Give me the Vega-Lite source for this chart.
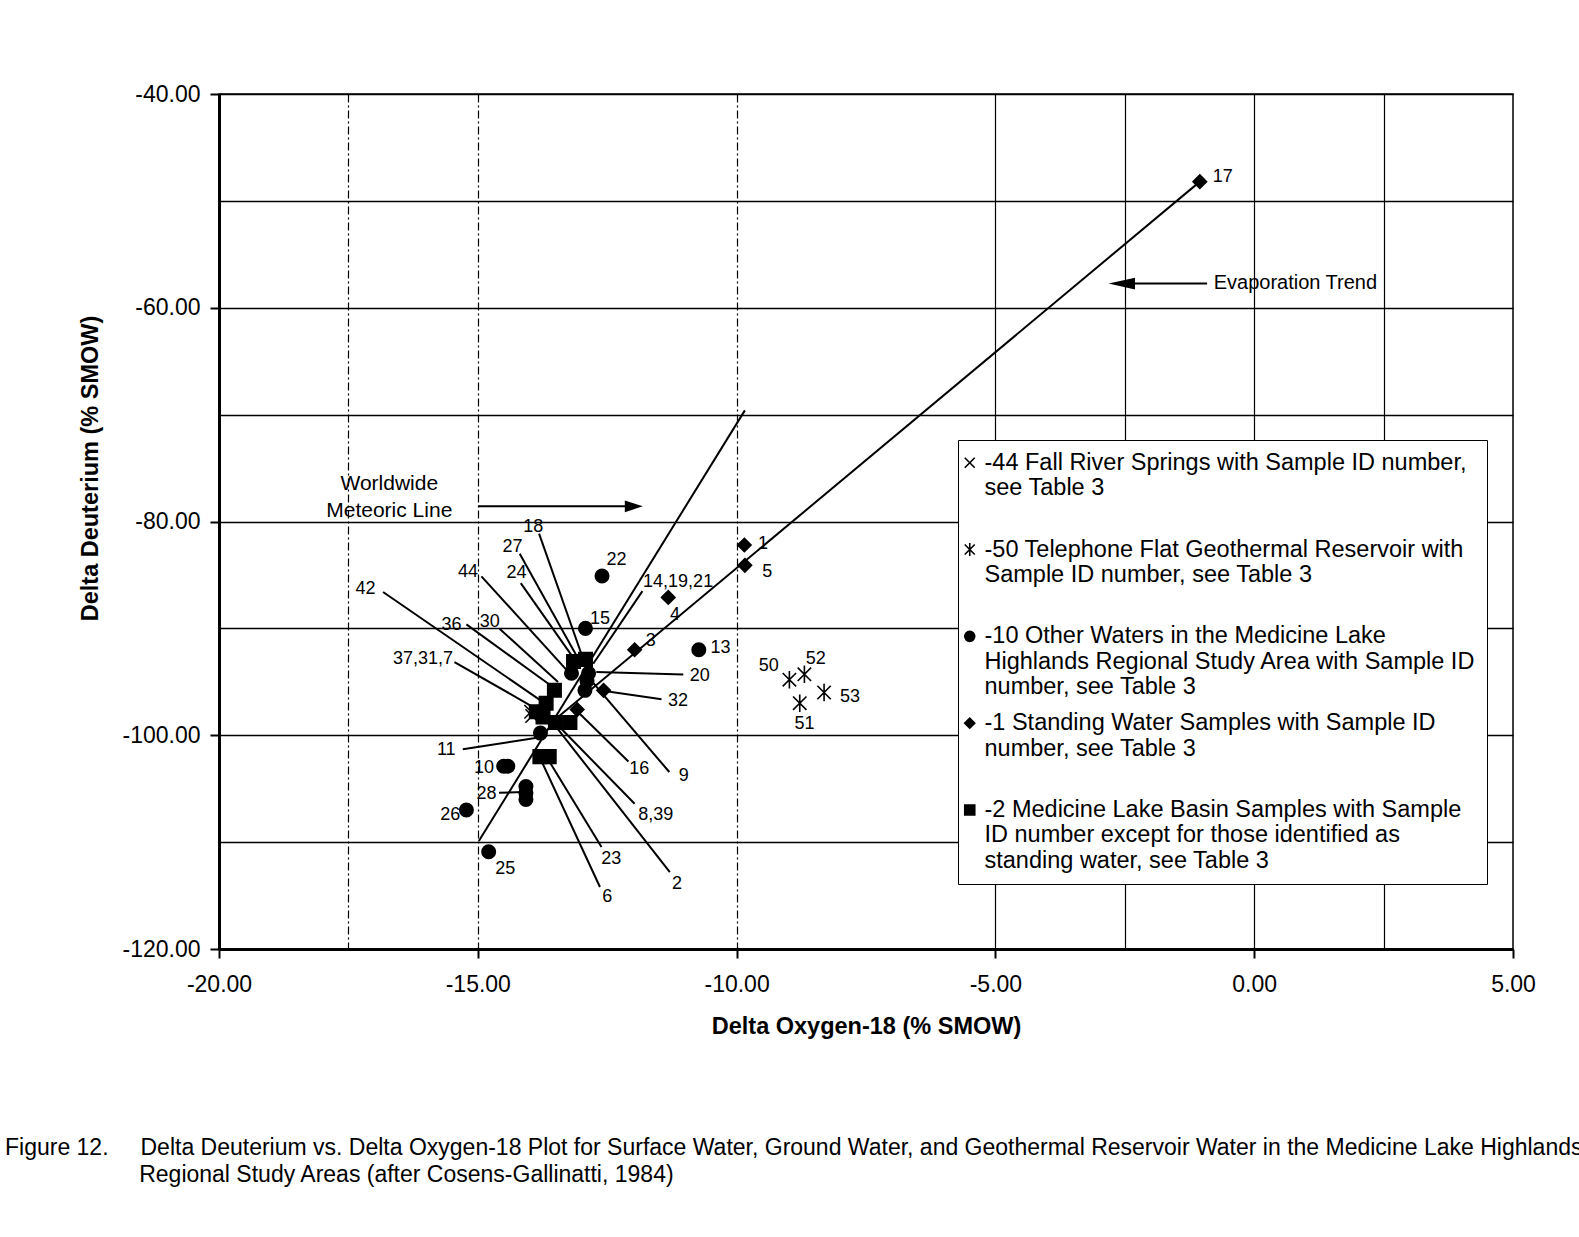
{
  "$schema": "https://vega.github.io/schema/vega-lite/v6.json",
  "width": 1294,
  "height": 855,
  "autosize": {"type": "none"},
  "padding": {"left": 219, "top": 94, "right": 66, "bottom": 288},
  "background": "white",
  "config": {
    "font": "Liberation Sans",
    "view": {"stroke": "black", "strokeWidth": 1.5},
    "axis": {
      "domainColor": "black", "domainWidth": 3,
      "tickColor": "black", "tickWidth": 2, "tickSize": 9,
      "labelColor": "black", "labelFont": "Liberation Sans", "labelFontSize": 23,
      "titleColor": "black", "titleFont": "Liberation Sans", "titleFontSize": 23.5, "titleFontWeight": "bold",
      "gridColor": "black", "labelFlush": false, "labelOverlap": false
    }
  },
  "title": {
    "text": [
      "Figure 12.\u00a0\u00a0\u00a0\u00a0\u00a0Delta Deuterium vs. Delta Oxygen-18 Plot for Surface Water, Ground Water, and Geothermal Reservoir Water in the Medicine Lake Highlands",
      "\u200b\u00a0\u00a0\u00a0\u00a0\u00a0\u00a0\u00a0\u00a0\u00a0\u00a0\u00a0\u00a0\u00a0\u00a0\u00a0\u00a0\u00a0\u00a0\u00a0\u00a0\u00a0Regional Study Areas (after Cosens-Gallinatti, 1984)"
    ],
    "orient": "bottom", "anchor": "start", "frame": "group", "align": "left", "baseline": "top",
    "dx": -214, "offset": 99,
    "font": "Liberation Sans", "fontSize": 23, "fontWeight": "normal", "color": "black", "lineHeight": 27
  },
  "datasets": {
    "pts": [
      {"x": -13.15, "y": -93.1, "g": "MLB"},
      {"x": -12.92, "y": -92.9, "g": "MLB"},
      {"x": -13.52, "y": -95.8, "g": "MLB"},
      {"x": -13.68, "y": -97.0, "g": "MLB"},
      {"x": -13.87, "y": -97.8, "g": "MLB"},
      {"x": -13.74, "y": -98.3, "g": "MLB"},
      {"x": -13.5, "y": -98.8, "g": "MLB"},
      {"x": -13.22, "y": -98.8, "g": "MLB"},
      {"x": -13.8, "y": -102.0, "g": "MLB"},
      {"x": -13.62, "y": -102.0, "g": "MLB"},
      {"x": -12.6, "y": -85.1, "g": "OW"},
      {"x": -12.92, "y": -90.0, "g": "OW"},
      {"x": -10.73, "y": -92.0, "g": "OW"},
      {"x": -14.5, "y": -102.9, "g": "OW"},
      {"x": -14.42, "y": -102.9, "g": "OW"},
      {"x": -15.22, "y": -107.0, "g": "OW"},
      {"x": -14.79, "y": -110.9, "g": "OW"},
      {"x": -14.07, "y": -104.8, "g": "OW"},
      {"x": -14.07, "y": -105.4, "g": "OW"},
      {"x": -14.07, "y": -106.0, "g": "OW"},
      {"x": -13.79, "y": -99.8, "g": "OW"},
      {"x": -13.19, "y": -94.2, "g": "OW"},
      {"x": -12.86, "y": -94.2, "g": "OW"},
      {"x": -12.93, "y": -95.8, "g": "OW"},
      {"x": -12.89, "y": -94.9, "g": "OW"},
      {"x": -9.85, "y": -82.2, "g": "SW"},
      {"x": -9.84, "y": -84.1, "g": "SW"},
      {"x": -11.32, "y": -87.1, "g": "SW"},
      {"x": -11.97, "y": -92.0, "g": "SW"},
      {"x": -12.57, "y": -95.8, "g": "SW"},
      {"x": -13.08, "y": -97.6, "g": "SW"},
      {"x": -1.05, "y": -48.2, "g": "SW"},
      {"x": -8.98, "y": -94.8, "g": "TF"},
      {"x": -8.69, "y": -94.3, "g": "TF"},
      {"x": -8.31, "y": -96.0, "g": "TF"},
      {"x": -8.78, "y": -97.0, "g": "TF"},
      {"x": -13.97, "y": -97.8, "g": "FRS"},
      {"x": -13.95, "y": -98.2, "g": "FRS"}
    ],
    "trend": [
      {"x": -14.98, "y": -109.9, "x2": -9.84, "y2": -69.6},
      {"x": -13.6, "y": -98.9, "x2": -1.05, "y2": -48.2},
      {"x": -14.99, "y": -78.58, "x2": -12.1, "y2": -78.58},
      {"x": -0.91, "y": -57.74, "x2": -2.5, "y2": -57.74}
    ],
    "leaders": [
      {"x": -13.816, "y": -81.14, "x2": -12.978, "y2": -92.68},
      {"x": -14.19, "y": -83.01, "x2": -13.06, "y2": -92.84},
      {"x": -14.17, "y": -85.76, "x2": -13.12, "y2": -93.0},
      {"x": -14.93, "y": -85.13, "x2": -13.19, "y2": -94.4},
      {"x": -16.83, "y": -86.6, "x2": -13.74, "y2": -96.9},
      {"x": -15.22, "y": -89.63, "x2": -13.55, "y2": -95.49},
      {"x": -14.58, "y": -90.03, "x2": -13.45, "y2": -95.02},
      {"x": -15.45, "y": -93.15, "x2": -13.93, "y2": -97.36},
      {"x": -11.82, "y": -86.51, "x2": -12.77, "y2": -93.31},
      {"x": -11.03, "y": -94.31, "x2": -12.71, "y2": -94.09},
      {"x": -11.45, "y": -96.64, "x2": -12.55, "y2": -95.86},
      {"x": -12.09, "y": -102.45, "x2": -13.05, "y2": -97.9},
      {"x": -11.3, "y": -103.44, "x2": -12.84, "y2": -94.71},
      {"x": -11.97, "y": -106.41, "x2": -13.42, "y2": -99.23},
      {"x": -11.29, "y": -112.8, "x2": -13.51, "y2": -99.08},
      {"x": -12.61, "y": -110.46, "x2": -13.67, "y2": -102.04},
      {"x": -12.64, "y": -114.2, "x2": -13.79, "y2": -102.2},
      {"x": -15.29, "y": -101.32, "x2": -13.855, "y2": -100.23},
      {"x": -14.59, "y": -105.38, "x2": -14.11, "y2": -105.32}
    ],
    "labs": [
      {"x": -13.93, "y": -80.52, "t": "18"},
      {"x": -14.33, "y": -82.39, "t": "27"},
      {"x": -14.25, "y": -84.82, "t": "24"},
      {"x": -15.19, "y": -84.73, "t": "44"},
      {"x": -17.17, "y": -86.29, "t": "42"},
      {"x": -15.51, "y": -89.72, "t": "36"},
      {"x": -14.77, "y": -89.41, "t": "30"},
      {"x": -16.06, "y": -92.84, "t": "37,31,7"},
      {"x": -12.64, "y": -89.1, "t": "15"},
      {"x": -12.32, "y": -83.57, "t": "22"},
      {"x": -11.13, "y": -85.66, "t": "14,19,21"},
      {"x": -11.19, "y": -88.78, "t": "4"},
      {"x": -11.66, "y": -91.22, "t": "3"},
      {"x": -10.31, "y": -91.84, "t": "13"},
      {"x": -10.71, "y": -94.46, "t": "20"},
      {"x": -11.13, "y": -96.83, "t": "32"},
      {"x": -11.88, "y": -103.13, "t": "16"},
      {"x": -11.02, "y": -103.82, "t": "9"},
      {"x": -11.56, "y": -107.44, "t": "8,39"},
      {"x": -11.15, "y": -113.9, "t": "2"},
      {"x": -12.42, "y": -111.55, "t": "23"},
      {"x": -12.5, "y": -115.14, "t": "6"},
      {"x": -15.61, "y": -101.42, "t": "11"},
      {"x": -14.88, "y": -103.07, "t": "10"},
      {"x": -14.83, "y": -105.47, "t": "28"},
      {"x": -15.53, "y": -107.44, "t": "26"},
      {"x": -14.47, "y": -112.49, "t": "25"},
      {"x": -9.49, "y": -82.12, "t": "1"},
      {"x": -9.41, "y": -84.76, "t": "5"},
      {"x": -0.607, "y": -47.81, "t": "17"},
      {"x": -9.38, "y": -93.52, "t": "50"},
      {"x": -8.47, "y": -92.86, "t": "52"},
      {"x": -7.81, "y": -96.45, "t": "53"},
      {"x": -8.69, "y": -98.98, "t": "51"}
    ],
    "notes": [
      {"x": -16.71, "y": -76.47, "t": "Worldwide"},
      {"x": -16.71, "y": -79.01, "t": "Meteoric Line"}
    ],
    "notes2": [
      {"x": -0.783, "y": -57.64, "t": "Evaporation Trend"}
    ],
    "headR": [{"x": -11.986, "y": -78.58}],
    "headL": [{"x": -2.558, "y": -57.74}]
  },
  "encoding": {
    "x": {
      "field": "x", "type": "quantitative",
      "scale": {"domain": [-20, 5], "nice": false, "zero": false},
      "axis": {
        "title": "Delta Oxygen-18 (% SMOW)",
        "values": [-20, -17.5, -15, -12.5, -10, -7.5, -5, -2.5, 0, 2.5, 5],
        "labelExpr": "datum.value % 5 == 0 ? (datum.value < 0 ? '-' : '') + format(abs(datum.value), '.2f') : ''",
        "labelPadding": 15,
        "tickOpacity": {"condition": {"test": "datum.value % 5 == 0", "value": 1}, "value": 0},
        "grid": true,
        "gridOpacity": {"condition": {"test": "indexof([-17.5, -15, -10, -5, -2.5, 0, 2.5], datum.value) >= 0", "value": 1}, "value": 0},
        "gridDash": {"condition": {"test": "datum.value < -7", "value": [8, 3, 2, 3]}, "value": []},
        "gridWidth": 1.2,
        "titleY": 65
      }
    },
    "y": {
      "field": "y", "type": "quantitative",
      "scale": {"domain": [-120, -40], "nice": false, "zero": false},
      "axis": {
        "title": "Delta Deuterium (% SMOW)",
        "values": [-120, -110, -100, -90, -80, -70, -60, -50, -40],
        "labelExpr": "datum.value % 20 == 0 ? '-' + format(abs(datum.value), '.2f') : ''",
        "labelPadding": 10,
        "tickOpacity": {"condition": {"test": "datum.value % 20 == 0", "value": 1}, "value": 0},
        "grid": true, "gridWidth": 1.6,
        "titleX": -129, "titleY": 374, "titleAngle": -90, "titleAlign": "center", "titleBaseline": "middle"
      }
    }
  },
  "layer": [
    {
      "data": {"name": "trend"},
      "mark": {"type": "rule", "color": "black", "strokeWidth": 2},
      "encoding": {"x2": {"field": "x2"}, "y2": {"field": "y2"}}
    },
    {
      "data": {"name": "leaders"},
      "mark": {"type": "rule", "color": "black", "strokeWidth": 2},
      "encoding": {"x2": {"field": "x2"}, "y2": {"field": "y2"}}
    },
    {
      "data": {"name": "headR"},
      "mark": {"type": "point", "shape": "M1,0L-1,-0.65L-1,0.65Z", "size": 324, "filled": true, "color": "black", "opacity": 1}
    },
    {
      "data": {"name": "headL"},
      "mark": {"type": "point", "shape": "M-1,0L1,-0.45L1,0.45Z", "size": 700, "filled": true, "color": "black", "opacity": 1}
    },
    {
      "data": {"name": "pts"},
      "mark": {"type": "point", "filled": false, "fill": "black", "stroke": "black", "strokeWidth": 1.6, "size": 180, "opacity": 1},
      "encoding": {
        "shape": {
          "field": "g", "type": "nominal",
          "scale": {
            "domain": ["FRS", "TF", "OW", "SW", "MLB"],
            "range": ["M-1,-1L1,1M-1,1L1,-1", "M-1,-1L1,1M-1,1L1,-1M0,-1.3L0,1.3", "circle", "diamond", "square"]
          },
          "legend": {
            "orient": "none", "legendX": 739, "legendY": 346,
            "title": null,
            "strokeColor": "black", "fillColor": "white", "padding": 11,
            "rowPadding": 10.8, "gridAlign": "all",
            "symbolSize": 100, "symbolStrokeWidth": 1.6,
            "symbolOffset": -11,
            "labelFont": "Liberation Sans", "labelFontSize": 23.5, "labelColor": "black", "labelLimit": 0,
            "labelOffset": 3, "labelBaseline": "middle",
            "labelExpr": "{'FRS': ['-44 Fall River Springs with Sample ID number,', 'see Table 3'], 'TF': ['-50 Telephone Flat Geothermal Reservoir with', 'Sample ID number, see Table 3'], 'OW': ['-10 Other Waters in the Medicine Lake', 'Highlands Regional Study Area with Sample ID', 'number, see Table 3'], 'SW': ['-1 Standing Water Samples with Sample ID', 'number, see Table 3'], 'MLB': ['-2 Medicine Lake Basin Samples with Sample', 'ID number except for those identified as', 'standing water, see Table 3']}[datum.label]"
          }
        }
      }
    },
    {
      "data": {"name": "labs"},
      "mark": {"type": "text", "font": "Liberation Sans", "fontSize": 18, "color": "black", "align": "center", "baseline": "middle"},
      "encoding": {"text": {"field": "t"}}
    },
    {
      "data": {"name": "notes"},
      "mark": {"type": "text", "font": "Liberation Sans", "fontSize": 21, "color": "black", "align": "center", "baseline": "middle"},
      "encoding": {"text": {"field": "t"}}
    },
    {
      "data": {"name": "notes2"},
      "mark": {"type": "text", "font": "Liberation Sans", "fontSize": 20, "color": "black", "align": "left", "baseline": "middle"},
      "encoding": {"text": {"field": "t"}}
    }
  ]
}
